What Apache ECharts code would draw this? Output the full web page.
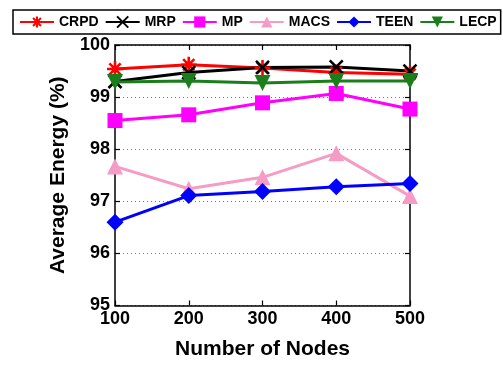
<!DOCTYPE html>
<html>
<head>
<meta charset="utf-8">
<script src="https://cdn.jsdelivr.net/npm/echarts@6/dist/echarts.min.js"></script>
<style>html,body{margin:0;padding:0;background:#fff;}#c{width:503px;height:365px;}</style>
</head>
<body>
<div id="c"></div>
<script>
var nodes = [100, 200, 300, 400, 500];
var yTicks = [95, 96, 97, 98, 99, 100];
var crpd = [99.54, 99.62, 99.56, 99.47, 99.44];
var mrp  = [99.30, 99.47, 99.57, 99.58, 99.50];
var mp   = [98.55, 98.66, 98.89, 99.07, 98.77];
var macs = [97.67, 97.24, 97.46, 97.92, 97.10];
var teen = [96.60, 97.11, 97.19, 97.28, 97.34];
var lecp = [99.29, 99.31, 99.27, 99.31, 99.31];

function pairs(v){ return nodes.map(function(n,i){ return [n, v[i]]; }); }

var starPath = 'path://M0,-10L0,10M-10,0L10,0M-7,-7L7,7M-7,7L7,-7';
var xPath = 'path://M-7,-7L7,7M-7,7L7,-7';

function mk(name, data, color, symbol, size, stroke){
  return {
    name: name, type: 'line', data: pairs(data),
    symbol: symbol, symbolSize: size,
    lineStyle: { color: color, width: 3 },
    itemStyle: stroke ? { color: color, borderColor: color, borderWidth: 2.6 } : { color: color, borderWidth: 0 },
    emphasis: { disabled: true },
    animation: false
  };
}

var chart = echarts.init(document.getElementById('c'), null, { renderer: 'canvas' });
chart.setOption({
  animation: false,
  backgroundColor: '#fff',
  legend: {
    left: 13, top: 10, width: 489,
    padding: [5, 4, 5, 6],
    borderColor: '#000', borderWidth: 1.5,
    itemWidth: 34, itemHeight: 14, itemGap: 6,
    textStyle: { fontFamily: 'Liberation Sans, Arial', fontWeight: 'bold', fontSize: 14, color: '#000' },
    data: ['CRPD', 'MRP', 'MP', 'MACS', 'TEEN', 'LECP']
  },
  grid: { left: 115, right: 93, top: 45, bottom: 55 },
  xAxis: [{
    type: 'value', min: 100, max: 500, interval: 100,
    name: 'Number of Nodes', nameLocation: 'middle', nameGap: 44,
    nameTextStyle: { fontFamily: 'Liberation Sans, Arial', fontWeight: 'bold', fontSize: 21, color: '#000', verticalAlign: 'middle' },
    axisLine: { lineStyle: { color: '#000', width: 1.5 } },
    axisTick: { inside: true, length: 5, lineStyle: { color: '#000', width: 1.2 } },
    axisLabel: { margin: 5, fontFamily: 'Liberation Sans, Arial', fontWeight: 'bold', fontSize: 18, color: '#000' },
    splitLine: { show: false }
  }, {
    type: 'value', min: 100, max: 500, interval: 100, position: 'top',
    axisLine: { lineStyle: { color: '#000', width: 1.5 } },
    axisTick: { inside: true, length: 5, lineStyle: { color: '#000', width: 1.2 } },
    axisLabel: { show: false }, splitLine: { show: false }
  }],
  yAxis: [{
    type: 'value', min: yTicks[0], max: yTicks[yTicks.length-1], interval: 1,
    name: 'Average Energy (%)', nameLocation: 'middle', nameGap: 54, nameRotate: 90,
    nameTextStyle: { fontFamily: 'Liberation Sans, Arial', fontWeight: 'bold', fontSize: 21, color: '#000', verticalAlign: 'middle' },
    axisLine: { show: true, lineStyle: { color: '#000', width: 1.5 } },
    axisTick: { show: true, inside: true, length: 5, lineStyle: { color: '#000', width: 1.2 } },
    axisLabel: { margin: 5, fontFamily: 'Liberation Sans, Arial', fontWeight: 'bold', fontSize: 18, color: '#000' },
    splitLine: { show: true, lineStyle: { color: '#777', width: 1, type: [1, 3] } }
  }, {
    type: 'value', min: yTicks[0], max: yTicks[yTicks.length-1], interval: 1, position: 'right',
    axisLine: { show: true, lineStyle: { color: '#000', width: 1.5 } },
    axisTick: { show: true, inside: true, length: 5, lineStyle: { color: '#000', width: 1.2 } },
    axisLabel: { show: false }, splitLine: { show: false }
  }],
  series: [
    mk('CRPD', crpd, '#ff0000', starPath, 16, true),
    mk('MRP', mrp, '#000000', xPath, 13, true),
    mk('MP', mp, '#ff00ff', 'rect', 15, false),
    mk('MACS', macs, '#f59cc6', 'triangle', 16, false),
    mk('TEEN', teen, '#0000ff', 'diamond', 17, false),
    mk('LECP', lecp, '#1a7f1a', 'path://M-10,-8L10,-8L0,10Z', 16, false)
  ]
});
</script>
</body>
</html>
